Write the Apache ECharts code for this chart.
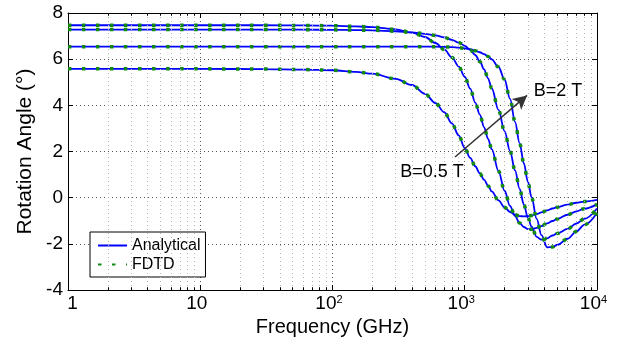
<!DOCTYPE html>
<html><head><meta charset="utf-8">
<script src="https://cdn.jsdelivr.net/npm/echarts@6/dist/echarts.min.js"></script>
<style>html,body{margin:0;padding:0;background:#fff}#c{width:621px;height:347px}</style>
</head><body><div id="c"></div>
<script>
// Frequency samples (GHz)
const freq = [1, 10, 30, 60, 100, 150, 200, 300, 400, 500, 600, 700, 800, 900, 1000, 1100, 1200, 1300, 1400, 1500, 1600, 1800, 2000, 2200, 2400, 2600, 2800, 3000, 3200, 3500, 3800, 4200, 4600, 5000, 6000, 7000, 8000, 10000];
// Rotation angle (deg)
const rotB05 = [5.58, 5.58, 5.57, 5.55, 5.52, 5.45, 5.37, 5.15, 4.88, 4.50, 4.10, 3.70, 3.22, 2.70, 2.15, 1.72, 1.36, 1.05, 0.78, 0.52, 0.27, -0.12, -0.42, -0.62, -0.74, -0.80, -0.81, -0.80, -0.77, -0.71, -0.64, -0.55, -0.47, -0.41, -0.30, -0.22, -0.17, -0.10];
const rotB10 = [7.47, 7.47, 7.47, 7.46, 7.45, 7.42, 7.39, 7.29, 7.15, 6.96, 6.70, 6.42, 6.08, 5.68, 5.24, 4.72, 4.12, 3.60, 3.06, 2.55, 2.10, 1.15, 0.30, -0.36, -0.80, -1.10, -1.27, -1.36, -1.37, -1.31, -1.23, -1.11, -1.01, -0.92, -0.74, -0.59, -0.48, -0.29];
const rotB15 = [7.28, 7.28, 7.28, 7.28, 7.27, 7.26, 7.25, 7.21, 7.16, 7.10, 7.03, 6.94, 6.84, 6.72, 6.58, 6.40, 6.18, 5.90, 5.56, 5.17, 4.74, 3.80, 2.88, 2.02, 1.18, 0.38, -0.30, -0.86, -1.26, -1.70, -1.82, -1.76, -1.64, -1.55, -1.35, -1.12, -0.92, -0.47];
const rotB20 = [6.54, 6.54, 6.54, 6.54, 6.54, 6.54, 6.54, 6.54, 6.54, 6.54, 6.54, 6.53, 6.52, 6.50, 6.47, 6.43, 6.37, 6.30, 6.22, 6.12, 5.99, 5.66, 5.12, 4.28, 3.28, 2.36, 1.48, 0.70, 0.02, -0.92, -1.62, -2.15, -2.14, -2.05, -1.78, -1.46, -1.18, -0.66];
// FDTD samples coincide with the analytical curves
const fdtdB05 = rotB05, fdtdB10 = rotB10, fdtdB15 = rotB15, fdtdB20 = rotB20;

const xTickValues = [1, 10, 100, 1000, 10000];
const xTickLabels = ['1', '10', '10^2', '10^3', '10^4'];
const xMinorValues = [2,3,4,5,6,7,8,9,20,30,40,50,60,70,80,90,200,300,400,500,600,700,800,900,2000,3000,4000,5000,6000,7000,8000,9000];
const yTicks = [-4, -2, 0, 2, 4, 6, 8];
const arrowFrom = [844, 1.76], arrowTo = [2958, 4.43];
const noteLow = {text: 'B=0.5 T', at: [565, 1.11]};
const noteHigh = {text: 'B=2 T', at: [5070, 4.62]};

const FONT = "'Liberation Sans', Arial, Helvetica, sans-serif";
const pairs = v => freq.map((f, i) => [f, v[i]]);

const blue = '#0000ff', green = '#118a11';
const analytic = [rotB05, rotB10, rotB15, rotB20].map(v => ({
  name: 'Analytical', type: 'line', data: pairs(v), symbol: 'none', smooth: 0.35, smoothMonotone: 'x',
  lineStyle: {color: blue, width: 1.8}, itemStyle: {color: blue}, z: 3, silent: true
}));
const fdtd = [fdtdB05, fdtdB10, fdtdB15, fdtdB20].map(v => ({
  name: 'FDTD', type: 'line', data: pairs(v), symbol: 'none', smooth: 0.35, smoothMonotone: 'x',
  lineStyle: {color: green, width: 3.5, type: [3.5, 10.5], cap: 'butt'}, itemStyle: {color: green}, z: 4, silent: true
}));

const tickLen = 0.12;
const helper = {
  name: 'helper', type: 'line', data: [], z: 1, silent: true,
  markLine: {
    silent: true, symbol: 'none', animation: false, label: {show: false},
    lineStyle: {color: '#b5b5b5', type: [1, 3], width: 1},
    data: [
      ...xMinorValues.map(v => ({xAxis: v})),
      ...xMinorValues.map(v => [{coord: [v, yTicks[0]], lineStyle: {color: '#000', type: 'solid'}}, {coord: [v, yTicks[0] + tickLen]}]),
      ...xMinorValues.map(v => [{coord: [v, yTicks[yTicks.length - 1]], lineStyle: {color: '#000', type: 'solid'}}, {coord: [v, yTicks[yTicks.length - 1] - tickLen]}])
    ]
  }
};
const notes = {
  name: 'notes', type: 'line', data: [], z: 6, silent: true,
  markLine: {
    silent: true, animation: false, symbol: ['none', 'arrow'], symbolSize: [11, 14],
    label: {show: false}, lineStyle: {color: '#333', width: 1.5, type: 'solid'},
    data: [[{coord: arrowFrom}, {coord: arrowTo}]]
  },
  markPoint: {
    silent: true, animation: false, symbol: 'rect', symbolSize: 0,
    label: {show: true, position: 'inside', formatter: p => p.name, color: '#000', fontSize: 18, fontFamily: FONT},
    data: [{name: noteLow.text, coord: noteLow.at}, {name: noteHigh.text, coord: noteHigh.at}]
  }
};

function xLabel(v) {
  const i = xTickValues.findIndex(t => Math.abs(t - v) < 1e-6 * t);
  if (i < 0) return '';
  const s = xTickLabels[i];
  if (s.indexOf('^') >= 0) { const p = s.split('^'); return '{b|' + p[0] + '}{s|' + p[1] + '}'; }
  return i === 0 ? '{one|' + s + '}' : '{ten|' + s + '}';
}

const axisCommonX = {
  type: 'log', logBase: 10, min: xTickValues[0], max: xTickValues[xTickValues.length - 1],
  axisLine: {show: true, onZero: false, lineStyle: {color: '#000', width: 1}},
  axisTick: {show: true, inside: true, length: 5, lineStyle: {color: '#000'}},
};
const axisCommonY = {
  type: 'value', min: yTicks[0], max: yTicks[yTicks.length - 1], interval: 2,
  axisLine: {show: true, onZero: false, lineStyle: {color: '#000', width: 1}},
  axisTick: {show: true, inside: true, length: 5, lineStyle: {color: '#000'}},
};

const option = {
  animation: false,
  backgroundColor: '#fff',
  grid: {left: 68, right: 24, top: 13, bottom: 57, containLabel: false},
  xAxis: [
    Object.assign({}, axisCommonX, {
      position: 'bottom',
      name: 'Frequency (GHz)', nameLocation: 'middle', nameGap: 26,
      nameTextStyle: {fontSize: 20, color: '#000', fontFamily: FONT},
      splitLine: {show: true, lineStyle: {color: '#555', type: [1, 3], width: 1}},
      axisLabel: {
        show: true, margin: 4, color: '#000', formatter: xLabel,
        rich: {
          one: {fontSize: 19, fontFamily: FONT, color: '#000', padding: [0, 0, 0, 9]},
          ten: {fontSize: 19, fontFamily: FONT, color: '#000', padding: [0, 7, 0, 0]},
          b: {fontSize: 19, fontFamily: FONT, color: '#000'},
          s: {fontSize: 11, fontFamily: FONT, color: '#000', verticalAlign: 'top', padding: [0, 7, 0, 0]}
        }
      }
    }),
    Object.assign({}, axisCommonX, {
      position: 'top', axisLabel: {show: false}, splitLine: {show: false}
    })
  ],
  yAxis: [
    Object.assign({}, axisCommonY, {
      position: 'left',
      name: 'Rotation Angle (°)', nameLocation: 'middle', nameGap: 31,
      nameTextStyle: {fontSize: 21, color: '#000', fontFamily: FONT},
      splitLine: {show: true, lineStyle: {color: '#555', type: [1, 3], width: 1}},
      axisLabel: {show: true, margin: 5, color: '#000', fontSize: 19, fontFamily: FONT}
    }),
    Object.assign({}, axisCommonY, {
      position: 'right', axisLabel: {show: false}, splitLine: {show: false}
    })
  ],
  legend: {
    data: ['Analytical', 'FDTD'], orient: 'vertical', left: 90, top: 232,
    padding: [4, 5, 3, 7], itemGap: 0, itemWidth: 29, itemHeight: 19,
    backgroundColor: '#fff', borderColor: '#000', borderWidth: 1, borderRadius: 0,
    selectedMode: false, itemStyle: {opacity: 0},
    textStyle: {fontSize: 16, lineHeight: 19, color: '#000', fontFamily: FONT}
  },
  series: [helper, ...analytic, ...fdtd, notes]
};

const chart = echarts.init(document.getElementById('c'), null, {renderer: 'canvas'});
chart.setOption(option);
</script>
</body></html>
